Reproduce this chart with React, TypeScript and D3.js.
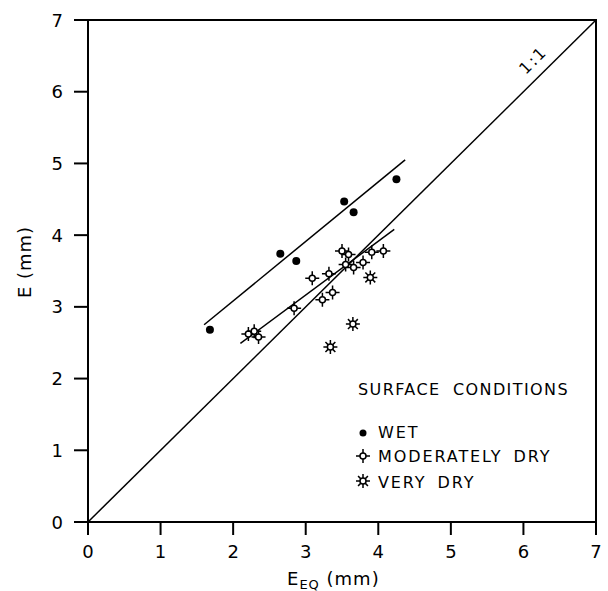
import React from "react";
import * as d3 from "d3";

const xTicks = [0, 1, 2, 3, 4, 5, 6, 7];
const yTicks = [0, 1, 2, 3, 4, 5, 6, 7];

const wetX = [1.68, 2.65, 2.87, 3.53, 3.66, 4.25];
const wetY = [2.68, 3.74, 3.64, 4.47, 4.32, 4.78];

const modX = [2.21, 2.29, 2.35, 2.84, 3.09, 3.23, 3.32, 3.37, 3.5, 3.55, 3.59, 3.66, 3.79, 3.91, 4.07];
const modY = [2.62, 2.66, 2.58, 2.98, 3.4, 3.1, 3.46, 3.2, 3.78, 3.59, 3.73, 3.55, 3.62, 3.76, 3.78];

const veryX = [3.34, 3.65, 3.89];
const veryY = [2.44, 2.76, 3.41];

const wetLineX = [1.6, 4.37];
const wetLineY = [2.75, 5.05];
const modLineX = [2.1, 4.22];
const modLineY = [2.49, 4.08];
const oneLineX = [0, 7];
const oneLineY = [0, 7];

const legendTitle = "SURFACE CONDITIONS";
const legendLabels = ["WET", "MODERATELY DRY", "VERY DRY"];

const FONT = "'DejaVu Sans', sans-serif";

function modPath(r: number, c: number) {
  return `M${-r},0L${-c},0M${c},0L${r},0M0,${-r}L0,${-c}M0,${c}L0,${r}`;
}
function veryPath(r: number, c: number) {
  let p = "";
  for (let i = 0; i < 8; i++) {
    const a = (i * Math.PI) / 4;
    p += `M${c * Math.cos(a)},${c * Math.sin(a)}L${r * Math.cos(a)},${r * Math.sin(a)}`;
  }
  return p;
}

function ModSym({ x, y }: { x: number; y: number }) {
  return (
    <g transform={`translate(${x},${y})`}>
      <path d={modPath(7, 3)} stroke="#000" strokeWidth={1.5} />
      <circle r={3} fill="#fff" stroke="#000" strokeWidth={1.5} />
    </g>
  );
}
function VerySym({ x, y }: { x: number; y: number }) {
  return (
    <g transform={`translate(${x},${y})`}>
      <path d={veryPath(7, 3)} stroke="#000" strokeWidth={1.5} />
      <circle r={3} fill="#fff" stroke="#000" strokeWidth={1.5} />
    </g>
  );
}

export default function App() {
  const x = d3.scaleLinear().domain([0, 7]).range([88, 596]);
  const y = d3.scaleLinear().domain([0, 7]).range([522, 20]);
  const line = d3
    .line<[number, number]>()
    .x((d) => x(d[0]))
    .y((d) => y(d[1]));
  const pairs = (xs: number[], ys: number[]) => xs.map((v, i) => [v, ys[i]] as [number, number]);

  return (
    <svg
      width={608}
      height={591}
      style={{ position: "absolute", left: 0, top: 0, background: "#fff" }}
      fontFamily={FONT}
    >
      <rect width={608} height={591} fill="#fff" />
      <rect x={x(0)} y={y(7)} width={x(7) - x(0)} height={y(0) - y(7)} fill="none" stroke="#000" strokeWidth={2} />
      {xTicks.map((t) => (
        <g key={"xt" + t}>
          <line x1={x(t)} x2={x(t)} y1={y(0)} y2={y(0) + 13} stroke="#000" strokeWidth={2} />
          <text x={x(t)} y={558} textAnchor="middle" fontSize={18}>
            {t}
          </text>
        </g>
      ))}
      {yTicks.map((t) => (
        <g key={"yt" + t}>
          <line x1={x(0) - 14} x2={x(0)} y1={y(t)} y2={y(t)} stroke="#000" strokeWidth={2} />
          <text x={63} y={y(t) + 6.5} textAnchor="end" fontSize={18}>
            {t}
          </text>
        </g>
      ))}
      <text x={287} y={585} fontSize={18} letterSpacing={1}>
        E
        <tspan fontSize={13} dy={4}>EQ</tspan>
        <tspan dy={-4}> (mm)</tspan>
      </text>
      <text transform={`translate(31,262) rotate(-90)`} textAnchor="middle" fontSize={18} letterSpacing={1}>
        E (mm)
      </text>
      <path d={line(pairs(oneLineX, oneLineY)) || ""} stroke="#000" strokeWidth={1.5} fill="none" />
      <path d={line(pairs(wetLineX, wetLineY)) || ""} stroke="#000" strokeWidth={1.5} fill="none" />
      <path d={line(pairs(modLineX, modLineY)) || ""} stroke="#000" strokeWidth={1.5} fill="none" />
      <text transform={`translate(537,64) rotate(-45)`} textAnchor="middle" fontSize={16} letterSpacing={2}>
        1:1
      </text>
      {wetX.map((v, i) => (
        <circle key={"w" + i} cx={x(v)} cy={y(wetY[i])} r={4} fill="#000" />
      ))}
      {modX.map((v, i) => (
        <ModSym key={"m" + i} x={x(v)} y={y(modY[i])} />
      ))}
      {veryX.map((v, i) => (
        <VerySym key={"v" + i} x={x(v)} y={y(veryY[i])} />
      ))}
      <text x={358} y={395} fontSize={16} letterSpacing={1.4} wordSpacing={6}>
        {legendTitle}
      </text>
      <circle cx={363} cy={433} r={3.5} fill="#000" />
      <text x={378} y={438} fontSize={16} letterSpacing={1.9}>
        {legendLabels[0]}
      </text>
      <ModSym x={363} y={456} />
      <text x={378} y={462} fontSize={16} letterSpacing={1.9} wordSpacing={4}>
        {legendLabels[1]}
      </text>
      <VerySym x={363} y={481} />
      <text x={378} y={488} fontSize={16} letterSpacing={1.9} wordSpacing={4}>
        {legendLabels[2]}
      </text>
    </svg>
  );
}
